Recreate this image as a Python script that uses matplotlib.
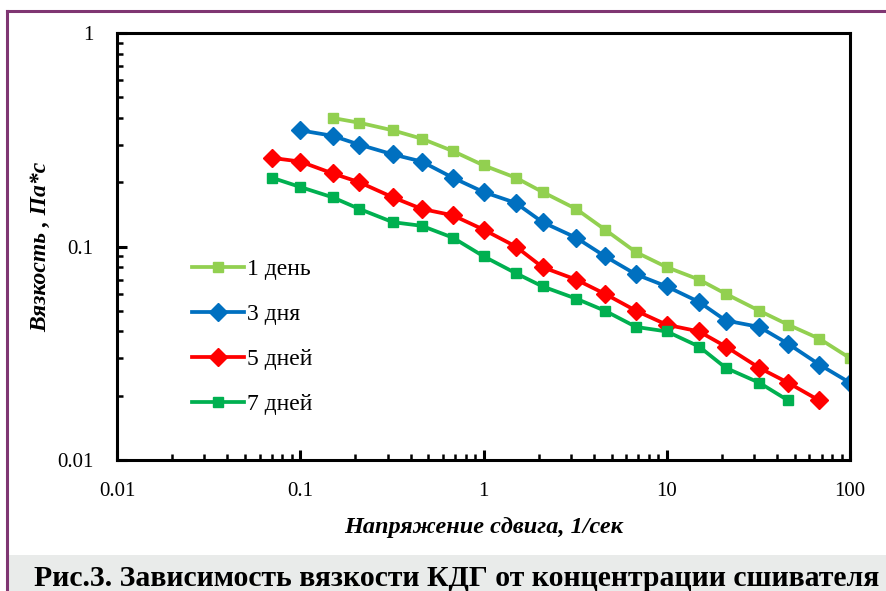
import matplotlib.pyplot as plt
from matplotlib.lines import Line2D
from matplotlib.patches import Rectangle

# Данные (вязкость, Па*с, от напряжения сдвига, 1/сек)
x_1den = [0.15, 0.21, 0.32, 0.46, 0.68, 1, 1.5, 2.1, 3.2, 4.6, 6.8, 10, 15, 21, 32, 46, 68, 100]
y_1den = [0.40, 0.38, 0.35, 0.32, 0.28, 0.24, 0.21, 0.18, 0.15, 0.12, 0.094, 0.080, 0.070, 0.060, 0.050, 0.043, 0.037, 0.030]

x_3dnya = [0.1, 0.15, 0.21, 0.32, 0.46, 0.68, 1, 1.5, 2.1, 3.2, 4.6, 6.8, 10, 15, 21, 32, 46, 68, 100]
y_3dnya = [0.35, 0.33, 0.30, 0.27, 0.25, 0.21, 0.18, 0.16, 0.13, 0.11, 0.09, 0.074, 0.065, 0.055, 0.045, 0.042, 0.035, 0.028, 0.023]

x_5dney = [0.07, 0.1, 0.15, 0.21, 0.32, 0.46, 0.68, 1, 1.5, 2.1, 3.2, 4.6, 6.8, 10, 15, 21, 32, 46, 68]
y_5dney = [0.26, 0.25, 0.22, 0.20, 0.17, 0.15, 0.14, 0.12, 0.10, 0.080, 0.070, 0.060, 0.050, 0.043, 0.040, 0.034, 0.027, 0.023, 0.019]

x_7dney = [0.07, 0.1, 0.15, 0.21, 0.32, 0.46, 0.68, 1, 1.5, 2.1, 3.2, 4.6, 6.8, 10, 15, 21, 32, 46]
y_7dney = [0.21, 0.19, 0.17, 0.15, 0.13, 0.125, 0.11, 0.090, 0.075, 0.065, 0.057, 0.050, 0.042, 0.040, 0.034, 0.027, 0.023, 0.019]

tick_vals = [0.01, 0.1, 1, 10, 100]
tick_labels = ['0.01', '0.1', '1', '10', '100']
y_tick_vals = [0.01, 0.1, 1]
y_tick_labels = ['0.01', '0.1', '1']

plt.rcParams['font.family'] = ['Liberation Serif', 'DejaVu Serif']

fig = plt.figure(figsize=(8.86, 5.91), dpi=100)
ax = fig.add_axes([117 / 886, 1 - 460 / 591, (850 - 117) / 886, (460 - 33) / 591])

# Серии
ax.plot(x_1den, y_1den, color='#92D050', lw=2.7, marker='s', ms=7.5, label='1 день')
ax.plot(x_3dnya, y_3dnya, color='#0070C0', lw=2.7, marker='D', ms=9, label='3 дня')
ax.plot(x_5dney, y_5dney, color='#FF0000', lw=2.7, marker='D', ms=9, label='5 дней')
ax.plot(x_7dney, y_7dney, color='#00B050', lw=2.7, marker='s', ms=7.5, label='7 дней')

ax.set_xscale('log')
ax.set_yscale('log')
ax.set_xlim(0.01, 100)
ax.set_ylim(0.01, 1)
ax.set_xticks(tick_vals)
ax.set_xticklabels(tick_labels)
ax.set_yticks(y_tick_vals)
ax.set_yticklabels(y_tick_labels)

for s in ax.spines.values():
    s.set_linewidth(2.2)
ax.tick_params(which='major', direction='in', length=7, width=2.2, labelsize=15)
ax.tick_params(which='minor', direction='in', length=4, width=1.8)
ax.tick_params(axis='x', which='major', pad=16)
ax.tick_params(axis='y', which='major', pad=17)
ax.tick_params(axis='y', which='both', right=False)
ax.tick_params(axis='x', which='both', top=False)

ax.set_xlabel('Напряжение сдвига, 1/сек', fontsize=17.5, fontweight='bold', style='italic', labelpad=11)
ax.set_ylabel('Вязкость , Па*с', fontsize=17, fontweight='bold', style='italic', labelpad=4)

leg = ax.legend(loc='upper left', bbox_to_anchor=(0.086, 0.5), frameon=False,
                fontsize=17, handlelength=2.2, handletextpad=0.15, labelspacing=1.0, borderpad=0)

# Рамка и подпись рисунка
fig.add_artist(Rectangle((7 / 886, 0), 1 - 7 / 886, 36 / 591, transform=fig.transFigure,
                         facecolor='#E9EBEA', edgecolor='none'))
fig.add_artist(Line2D([7 / 886, 7 / 886], [1 - 11 / 591, 0], transform=fig.transFigure,
                      color='#7F3672', lw=2.2))
fig.add_artist(Line2D([7 / 886, 1], [1 - 11 / 591, 1 - 11 / 591], transform=fig.transFigure,
                      color='#7F3672', lw=2.2))
fig.text(0.5 + 14 / 886, 12 / 591, 'Рис.3. Зависимость вязкости КДГ от концентрации сшивателя',
         ha='center', va='center', fontsize=21.4, fontweight='bold')

fig.savefig('out.png', dpi=100)
